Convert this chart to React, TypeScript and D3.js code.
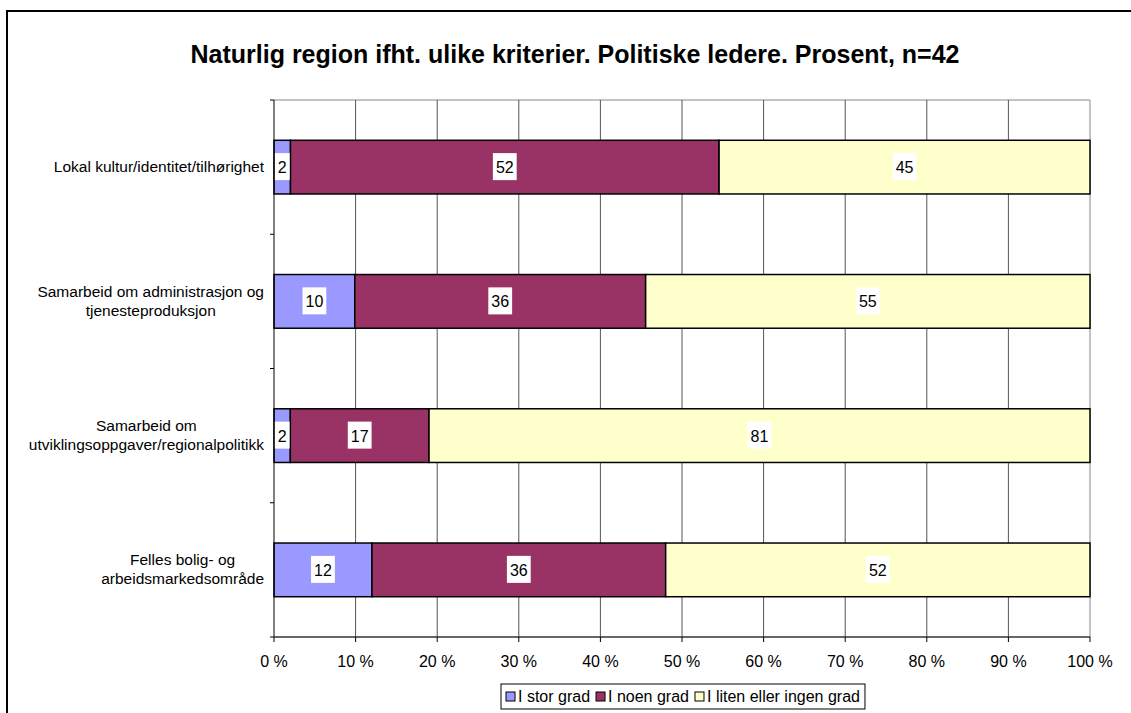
import React from "react";
import * as d3 from "d3";

const title = "Naturlig region ifht. ulike kriterier. Politiske ledere. Prosent, n=42";
const categories: string[][] = [
  ["Lokal kultur/identitet/tilhørighet"],
  ["Samarbeid om administrasjon og", "tjenesteproduksjon"],
  ["Samarbeid om", "utviklingsoppgaver/regionalpolitikk"],
  ["Felles bolig- og", "arbeidsmarkedsområde"],
];
const seriesNames = ["I stor grad", "I noen grad", "I liten eller ingen grad"];
const stor = [2, 10, 2, 12];
const noen = [52, 36, 17, 36];
const liten = [45, 55, 81, 52];
const colors = ["#9999FF", "#993366", "#FFFFCC"];
const xTicks = [0, 10, 20, 30, 40, 50, 60, 70, 80, 90, 100];

const FONT = "Liberation Sans, Arial, sans-serif";

function measure(text: string, size: number, weight = "normal"): number {
  const c = document.createElement("canvas");
  const ctx = c.getContext("2d")!;
  ctx.font = `${weight} ${size}px ${FONT}`;
  return ctx.measureText(text).width;
}

export default function App() {
  const W = 1131, H = 713;
  const left = 274, right = 1090, top = 100, bottom = 637;
  const FS = 16;
  const CFS = 15.5;
  const x = d3.scaleLinear().domain([0, 100]).range([left, right]);
  const y = d3.scaleBand<number>().domain(d3.range(categories.length)).range([top, bottom]).paddingInner(0.6).paddingOuter(0.3);
  const yb = d3.scaleBand<number>().domain(d3.range(categories.length)).range([top, bottom]);

  const rows = categories.map((_, i) => [stor[i], noen[i], liten[i]]);
  const stacked = rows.map((vals) => {
    const total = d3.sum(vals);
    let acc = 0;
    return vals.map((v) => {
      const x0 = (acc / total) * 100;
      acc += v;
      const x1 = (acc / total) * 100;
      return { v, x0, x1 };
    });
  });

  const gap = 18;
  const legendItems = seriesNames.map((n) => ({ n, w: measure(n, FS) }));
  const legendWidth = d3.sum(legendItems, (d) => d.w + gap) + 4;
  const legendX = 501;
  let lx = legendX + 5;

  return (
    <svg width={W} height={H} style={{ display: "block", position: "absolute", left: 0, top: 0 }} fontFamily={FONT}>
      <rect x={7} y={11} width={W + 20} height={H + 20} fill="white" stroke="black" strokeWidth={2} />
      <text x={575} y={63} textAnchor="middle" fontSize={25} fontWeight="bold">{title}</text>

      {/* plot border top/right */}
      <line x1={left} x2={right} y1={top} y2={top} stroke="#888" />
      <line x1={right} x2={right} y1={top} y2={bottom} stroke="#888" />
      {/* gridlines */}
      {xTicks.slice(1, -1).map((t) => (
        <line key={t} x1={x(t)} x2={x(t)} y1={top} y2={bottom} stroke="#555" />
      ))}

      {/* bars */}
      {stacked.map((segs, i) =>
        segs.map((s, j) => (
          <rect key={`${i}-${j}`} x={x(s.x0)} y={y(i)!} width={x(s.x1) - x(s.x0)} height={y.bandwidth()}
            fill={colors[j]} stroke="black" strokeWidth={1.5} />
        ))
      )}
      {/* data labels */}
      {stacked.map((segs, i) =>
        segs.map((s, j) => {
          const cx = (x(s.x0) + x(s.x1)) / 2;
          const cy = y(i)! + y.bandwidth() / 2;
          const tw = measure(String(s.v), FS);
          return (
            <g key={`l${i}-${j}`}>
              <rect x={cx - tw / 2 - 3} y={cy - 14} width={tw + 6} height={27} fill="white" />
              <text x={cx} y={cy + 6} textAnchor="middle" fontSize={FS}>{s.v}</text>
            </g>
          );
        })
      )}

      {/* axes */}
      <line x1={left} x2={left} y1={top} y2={bottom} stroke="black" />
      {d3.range(categories.length + 1).map((k) => {
        const yy = k < categories.length ? yb(k)! : bottom;
        return <line key={k} x1={left - 4} x2={left} y1={yy} y2={yy} stroke="black" />;
      })}
      <line x1={left} x2={right} y1={bottom} y2={bottom} stroke="#333" strokeWidth={1.5} />
      {xTicks.map((t) => (
        <g key={t}>
          <line x1={x(t)} x2={x(t)} y1={bottom} y2={bottom + 5} stroke="black" />
          <text x={x(t)} y={667} textAnchor="middle" fontSize={FS}>{`${t} %`}</text>
        </g>
      ))}

      {/* category labels */}
      {categories.map((lines, i) => {
        const maxW = d3.max(lines, (l) => measure(l, CFS))!;
        const cx = 264 - maxW / 2;
        const cy = yb(i)! + yb.bandwidth() / 2;
        const lh = 19;
        const y0 = cy - ((lines.length - 1) * lh) / 2 + 5;
        return (
          <text key={i} textAnchor="middle" fontSize={CFS}>
            {lines.map((l, k) => (
              <tspan key={k} x={cx} y={y0 + k * lh}>{l}</tspan>
            ))}
          </text>
        );
      })}

      {/* legend */}
      <rect x={legendX} y={684} width={legendWidth} height={25} fill="white" stroke="black" />
      {legendItems.map((it, j) => {
        const sx = lx;
        lx += it.w + gap;
        return (
          <g key={j}>
            <rect x={sx} y={692} width={9} height={9} fill={colors[j]} stroke="black" />
            <text x={sx + 12} y={702} fontSize={FS}>{it.n}</text>
          </g>
        );
      })}
    </svg>
  );
}
